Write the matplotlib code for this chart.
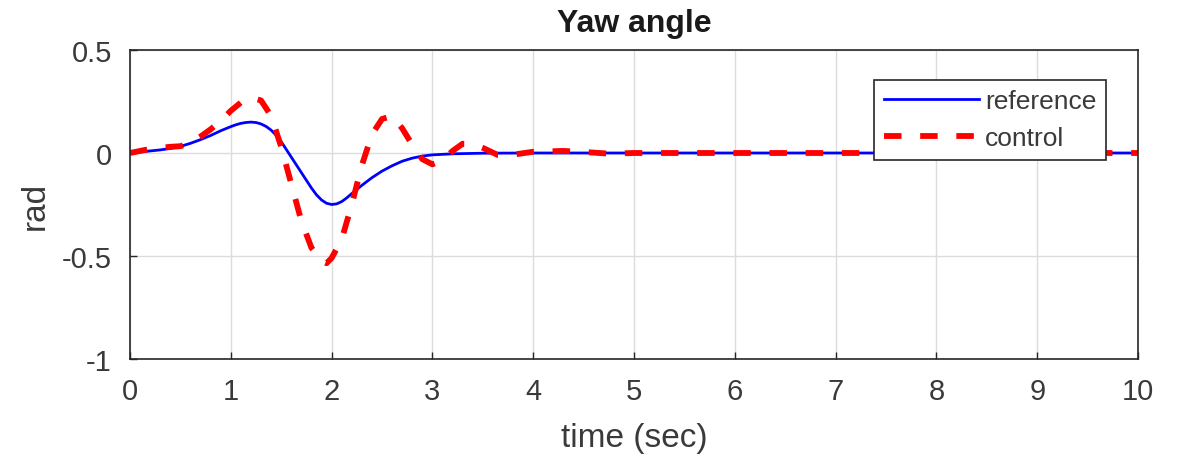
import matplotlib.pyplot as plt
import numpy as np

plt.rcParams['font.family'] = ['Liberation Sans', 'DejaVu Sans']

# Referansekurve (blå, heltrukken)
t_ref = [0.0, 0.1, 0.2, 0.3, 0.4, 0.5, 0.6, 0.7, 0.8, 0.9, 1.0, 1.05, 1.1, 1.15, 1.2,
         1.25, 1.3, 1.35, 1.4, 1.45, 1.5, 1.6, 1.7, 1.8, 1.85, 1.9, 1.95, 2.0, 2.05,
         2.1, 2.15, 2.2, 2.3, 2.4, 2.5, 2.6, 2.7, 2.8, 2.9, 3.0, 3.2, 3.5, 4.0, 10.0]
y_ref = [0.0, 0.005, 0.01, 0.015, 0.022, 0.032, 0.047, 0.065, 0.085, 0.108, 0.128,
         0.137, 0.144, 0.148, 0.15, 0.148, 0.141, 0.129, 0.111, 0.086, 0.055, -0.02,
         -0.095, -0.17, -0.203, -0.228, -0.244, -0.25, -0.247, -0.236, -0.218,
         -0.197, -0.157, -0.12, -0.088, -0.062, -0.04, -0.025, -0.015, -0.009,
         -0.004, -0.001, 0.0, 0.0]

# Regulert kurve (rød, stiplet)
t_ctl = [0.0, 0.1, 0.2, 0.3, 0.4, 0.5, 0.6, 0.7, 0.8, 0.9, 1.0, 1.1, 1.2, 1.3, 1.4,
         1.5, 1.6, 1.7, 1.8, 1.9, 1.95, 2.0, 2.1, 2.2, 2.3, 2.4, 2.5, 2.6, 2.7, 2.8,
         2.9, 3.0, 3.1, 3.2, 3.3, 3.4, 3.5, 3.65, 3.8, 4.0, 4.3, 4.5, 4.75, 5.0,
         6.0, 10.0]
y_ctl = [0.0, 0.01, 0.02, 0.025, 0.03, 0.033, 0.05, 0.08, 0.115, 0.155, 0.205,
         0.245, 0.27, 0.255, 0.18, 0.03, -0.15, -0.33, -0.46, -0.525, -0.535,
         -0.51, -0.42, -0.25, -0.06, 0.09, 0.165, 0.18, 0.12, 0.04, -0.03, -0.055,
         -0.035, 0.01, 0.045, 0.045, 0.025, -0.01, -0.008, 0.006, 0.01, 0.005,
         -0.003, 0.0, 0.0, 0.0]

x_ticks = np.arange(0, 11, 1)
y_ticks = [-1, -0.5, 0, 0.5]

fig = plt.figure(figsize=(11.79, 4.6), dpi=100)
ax = fig.add_axes([130 / 1179, 100 / 460, 1008 / 1179, 309 / 460])

ax.plot(t_ref, y_ref, color="#0000ff", lw=2.0, label="reference")
ax.plot(t_ctl, y_ctl, color="#ff0000", lw=4.2, dashes=(3, 3.2), label="control")

ax.set_xlim(0, 10)
ax.set_ylim(-1, 0.5)
ax.set_xticks(x_ticks)
ax.set_yticks(y_ticks)
ax.set_yticklabels(["-1", "-0.5", "0", "0.5"])

# MATLAB-aktig utseende
ax.grid(True, color="#dcdcdc", lw=1)
ax.set_axisbelow(True)
for s in ax.spines.values():
    s.set_color("#262626")
    s.set_linewidth(1.2)
ax.tick_params(direction="in", length=5, width=1, color="#262626",
               labelcolor="#3a3a3a", labelsize=21, pad=13, top=False, right=False)

ax.set_xlabel("time (sec)", fontsize=24, color="#3a3a3a", labelpad=12)
ax.set_ylabel("rad", fontsize=24, color="#3a3a3a", labelpad=8)
ax.set_title("Yaw angle", fontsize=23, fontweight="bold", color="#1a1a1a", pad=14)

leg = ax.legend(loc="upper right", bbox_to_anchor=(0.968, 0.903), borderaxespad=0,
                fontsize=19, frameon=True, fancybox=False, handlelength=3.6,
                handletextpad=0.25, borderpad=0.35, labelspacing=0.5)
leg.get_frame().set_edgecolor("#262626")
leg.get_frame().set_linewidth(1.2)
leg.get_frame().set_alpha(1)
for txt in leg.get_texts():
    txt.set_color("#3a3a3a")

plt.savefig("out.png", dpi=100)
